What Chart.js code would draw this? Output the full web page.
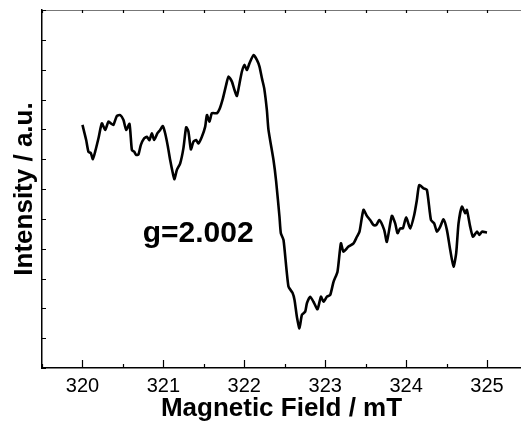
<!DOCTYPE html>
<html>
<head>
<meta charset="utf-8">
<script src="https://cdn.jsdelivr.net/npm/chart.js@4/dist/chart.umd.min.js"></script>
<style>
  html, body { margin: 0; padding: 0; background: #fff; overflow: hidden; }
  #wrap { width: 521px; height: 427px; position: relative; }
</style>
</head>
<body>
<div id="wrap"><canvas id="chart-area"></canvas></div>
<script>
// EPR spectrum
var field = [
  320.000, 320.046, 320.074, 320.104, 320.129, 320.157, 320.198, 320.240, 320.281, 320.321,
  320.351, 320.383, 320.425, 320.466, 320.507, 320.540, 320.581, 320.611, 320.639, 320.664,
  320.692, 320.722, 320.763, 320.796, 320.828, 320.858, 320.886, 320.927, 320.960, 320.994,
  321.022, 321.056, 321.084, 321.117, 321.137, 321.167, 321.208, 321.248, 321.282, 321.310,
  321.340, 321.372, 321.405, 321.434, 321.476, 321.517, 321.538, 321.570, 321.600, 321.661,
  321.693, 321.736, 321.776, 321.805, 321.847, 321.879, 321.909, 321.941, 321.970, 322.002,
  322.032, 322.064, 322.114, 322.156, 322.188, 322.218, 322.246, 322.279, 322.299, 322.361,
  322.394, 322.435, 322.452, 322.485, 322.546, 322.596, 322.621, 322.650, 322.682, 322.712,
  322.753, 322.774, 322.815, 322.855, 322.905, 322.947, 322.979, 323.021, 323.062, 323.103,
  323.152, 323.194, 323.226, 323.288, 323.350, 323.392, 323.424, 323.473, 323.515, 323.556,
  323.597, 323.630, 323.671, 323.729, 323.762, 323.824, 323.865, 323.894, 323.927, 323.960,
  324.001, 324.051, 324.100, 324.133, 324.162, 324.215, 324.257, 324.307, 324.347, 324.381,
  324.422, 324.462, 324.504, 324.545, 324.586, 324.619, 324.648, 324.690, 324.730, 324.751,
  324.792, 324.826, 324.875, 324.907, 324.937, 325.000
];
var intensity = [
  8.15, 7.64, 7.25, 7.20, 7.00, 7.25, 7.70, 8.20, 7.98, 8.26,
  8.20, 8.15, 8.45, 8.48, 8.31, 7.98, 8.18, 7.31, 7.25, 7.14,
  7.16, 7.48, 7.70, 7.75, 7.64, 7.87, 7.64, 7.87, 7.98, 8.11,
  7.87, 7.42, 6.97, 6.53, 6.33, 6.64, 6.86, 7.37, 8.07, 7.92,
  7.33, 7.59, 7.64, 7.53, 7.75, 8.09, 8.48, 8.26, 8.54, 8.54,
  8.67, 9.04, 9.49, 9.77, 9.60, 9.32, 9.12, 9.54, 9.93, 10.16,
  9.99, 10.21, 10.49, 10.33, 10.10, 9.71, 9.38, 8.65, 7.98, 6.97,
  6.25, 5.07, 4.52, 4.29, 2.73, 2.52, 2.28, 1.72, 1.33, 1.78,
  1.89, 2.17, 2.39, 2.22, 1.97, 2.39, 2.22, 2.39, 2.45, 2.89,
  3.23, 4.18, 3.90, 4.07, 4.18, 4.40, 4.57, 5.30, 5.10, 4.96,
  4.79, 4.79, 4.96, 4.63, 4.23, 5.10, 4.85, 4.52, 4.68, 4.68,
  5.05, 4.68, 5.13, 5.63, 6.13, 6.02, 5.97, 4.96, 4.85, 4.57,
  4.74, 4.98, 4.63, 3.96, 3.40, 3.85, 4.85, 5.41, 5.19, 5.30,
  4.74, 4.40, 4.57, 4.46, 4.57, 4.54
];
var xMin = 319.5, xMax = 325.42;
var yMin = 0, yMax = 12;
var gLabel = 'g=2.002';
var gAt = [321.43, 4.49];

var FONT = "'Liberation Sans', Arial, sans-serif";

var points = field.map(function (x, i) { return { x: x, y: intensity[i] }; });

// ticks pointing into the plot, plus the thin top frame line
var inwardTicks = {
  id: 'inwardTicks',
  afterDraw: function (chart) {
    var ctx = chart.ctx, a = chart.chartArea;
    var xs = chart.scales.x, ys = chart.scales.y;
    ctx.save();
    ctx.strokeStyle = '#777';
    ctx.lineWidth = 1;
    ctx.beginPath();
    ctx.moveTo(a.left, a.top + 0.5);
    ctx.lineTo(a.right, a.top + 0.5);
    ctx.stroke();

    ctx.strokeStyle = '#000';
    ctx.lineWidth = 1.2;
    ctx.beginPath();
    xs.ticks.forEach(function (t) {
      if (Math.abs(t.value * 2 - Math.round(t.value * 2)) > 1e-6) return;
      var px = Math.round(xs.getPixelForValue(t.value)) + 0.5;
      var major = Number.isInteger(t.value);
      ctx.moveTo(px, a.bottom);
      ctx.lineTo(px, a.bottom - (major ? 8 : 4));
      ctx.moveTo(px, a.top);
      ctx.lineTo(px, a.top + 3);
    });
    ys.ticks.forEach(function (t) {
      var py = Math.round(ys.getPixelForValue(t.value)) + 0.5;
      ctx.moveTo(a.left, py);
      ctx.lineTo(a.left + 4, py);
    });
    ctx.stroke();

    ctx.fillStyle = '#000';
    ctx.font = 'bold 30px ' + FONT;
    ctx.textAlign = 'center';
    ctx.textBaseline = 'middle';
    ctx.fillText(gLabel, xs.getPixelForValue(gAt[0]), ys.getPixelForValue(gAt[1]));
    ctx.restore();
  }
};

var config = {
  type: 'line',
  data: {
    datasets: [{
      data: points,
      borderColor: '#000',
      borderWidth: 2.6,
      pointRadius: 0,
      tension: 0.2,
      fill: false
    }]
  },
  options: {
    responsive: false,
    animation: false,
    layout: { padding: { top: 10, right: 0, left: 0, bottom: 0 } },
    plugins: { legend: { display: false }, tooltip: { enabled: false } },
    scales: {
      x: {
        type: 'linear',
        min: xMin,
        max: xMax,
        grid: { display: false, drawTicks: false },
        border: { display: true, color: '#000', width: 1.5 },
        ticks: {
          stepSize: 0.5,
          includeBounds: false,
          autoSkip: false,
          maxRotation: 0,
          padding: 6,
          color: '#000',
          font: { family: FONT, size: 20 },
          callback: function (v) { return Number.isInteger(v) ? String(v) : ''; }
        },
        title: {
          display: true,
          text: 'Magnetic Field / mT',
          color: '#000',
          font: { family: FONT, size: 26, weight: 'bold' },
          padding: { top: 0, bottom: 3 }
        },
        afterFit: function (s) { s.height = 59; }
      },
      y: {
        type: 'linear',
        min: yMin,
        max: yMax,
        grid: { display: false, drawTicks: false },
        border: { display: true, color: '#000', width: 1.5 },
        ticks: { stepSize: 1, display: false },
        title: {
          display: true,
          text: 'Intensity / a.u.',
          color: '#000',
          font: { family: FONT, size: 26, weight: 'bold' },
          padding: { top: 9, bottom: 0 }
        },
        afterFit: function (s) { s.width = 42; }
      }
    }
  },
  plugins: [inwardTicks]
};

var canvas = document.getElementById('chart-area');
canvas.width = 521;
canvas.height = 427;
new Chart(canvas.getContext('2d'), config);
</script>
</body>
</html>
